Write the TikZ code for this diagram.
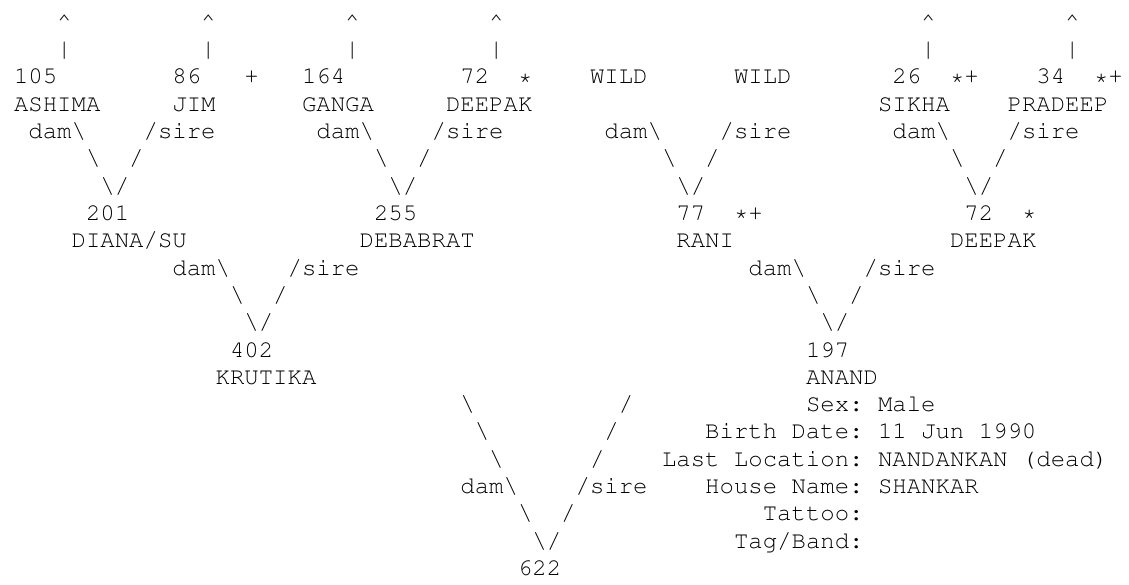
\documentclass[tikz,border=0pt]{standalone}
\usepackage[T1]{fontenc}
\usepackage{courier}
\tikzset{
  txt/.style={font=\ttfamily\fontsize{24}{27}\selectfont, anchor=base west, inner sep=0pt, outer sep=0pt},
  key/.style={txt, anchor=base east},
}
\newcommand{\bsl}{\textbackslash}

\begin{document}
\begin{tikzpicture}[x=14.4pt, y=-27.3pt]
  \useasboundingbox (-14pt,29.4pt) rectangle (1115pt,-555.6pt);

  % 1. 向上延伸的标记
  \foreach \c in {3,13,23,33,63,73} {
    \node[txt] (up\c) at (\c,0) {\textasciicircum};
    \node[txt] (bar\c) at (\c,1) {\textbar};
  }

  % 2. 第一代 (编号 + 名字)
  \node[txt] (id105) at (0,2) {105};
  \node[txt] (ashima) at (0,3) {ASHIMA};
  \node[txt] (id86) at (11,2) {86};
  \node[txt] (mk86) at (16,2) {+};
  \node[txt] (jim) at (11,3) {JIM};
  \node[txt] (id164) at (20,2) {164};
  \node[txt] (ganga) at (20,3) {GANGA};
  \node[txt] (id72) at (31,2) {72};
  \node[txt] (mk72) at (35,2) {*};
  \node[txt] (deepak) at (30,3) {DEEPAK};
  \node[txt] (wild1) at (40,2) {WILD};
  \node[txt] (wild2) at (50,2) {WILD};
  \node[txt] (id26) at (61,2) {26};
  \node[txt] (mk26) at (65,2) {*+};
  \node[txt] (sikha) at (60,3) {SIKHA};
  \node[txt] (id34) at (71,2) {34};
  \node[txt] (mk34) at (75,2) {*+};
  \node[txt] (pradeep) at (69,3) {PRADEEP};

  % 3. dam/sire 分叉 (子代编号末列/起始行)
  \foreach \e/\t in {7/4,27/4,47/4,67/4,17/9,57/9,37/17} {
    \node[txt] (dam\e) at (\e-6,\t) {dam\bsl};
    \node[txt] (sire\e) at (\e+2,\t) {/sire};
    \node[txt] (l\e) at (\e-2,\t+1) {\bsl};
    \node[txt] (r\e) at (\e+1,\t+1) {/};
    \node[txt] (v\e) at (\e-1,\t+2) {\bsl/};
  }

  % 4. 第二代
  \node[txt] (id201) at (5,7) {201};
  \node[txt] (diana) at (4,8) {DIANA/SU};
  \node[txt] (id255) at (25,7) {255};
  \node[txt] (debabrat) at (24,8) {DEBABRAT};
  \node[txt] (id77) at (46,7) {77};
  \node[txt] (mk77) at (50,7) {*+};
  \node[txt] (rani) at (46,8) {RANI};
  \node[txt] (id72b) at (66,7) {72};
  \node[txt] (mk72b) at (70,7) {*};
  \node[txt] (deepak2) at (65,8) {DEEPAK};

  % 5. 父母
  \node[txt] (id402) at (15,12) {402};
  \node[txt] (krutika) at (14,13) {KRUTIKA};
  \node[txt] (id197) at (55,12) {197};
  \node[txt] (anand) at (55,13) {ANAND};

  % 6. 长斜线与本个体
  \foreach \i in {0,1,2} {
    \node[txt] (ll\i) at (31+\i,14+\i) {\bsl};
    \node[txt] (rl\i) at (42-\i,14+\i) {/};
  }
  \node[txt] (id622) at (35,20) {622};

  % 7. 资料 (冒号对齐)
  \node[key] (sexk) at (59,14) {Sex:};
  \node[txt] (sexv) at (60,14) {Male};
  \node[key] (birthk) at (59,15) {Birth Date:};
  \node[txt] (birthv) at (60,15) {11 Jun 1990};
  \node[key] (lock) at (59,16) {Last Location:};
  \node[txt] (locv) at (60,16) {NANDANKAN (dead)};
  \node[key] (housek) at (59,17) {House Name:};
  \node[txt] (housev) at (60,17) {SHANKAR};
  \node[key] (tattook) at (59,18) {Tattoo:};
  \node[key] (tagk) at (59,19) {Tag/Band:};
\end{tikzpicture}
\end{document}
